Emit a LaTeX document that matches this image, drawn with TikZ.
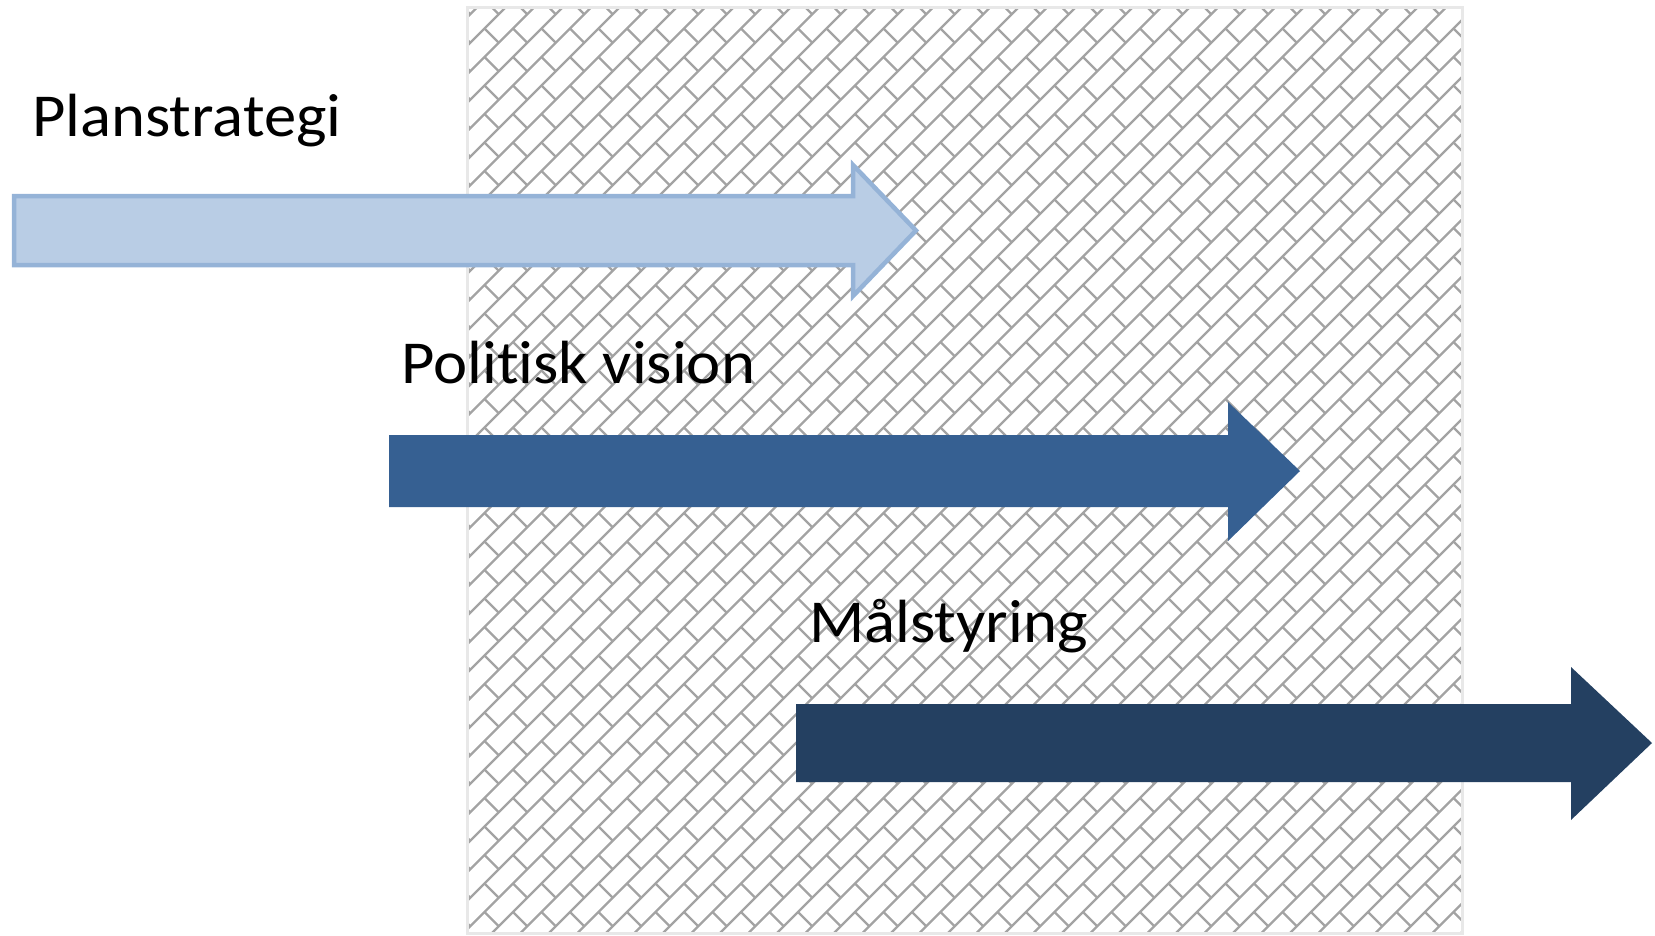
\documentclass[tikz,border=0pt]{standalone}
\usepackage{fontspec}
\setmainfont{Carlito}[Ligatures=NoCommon, FakeStretch=1.06]
\usepackage{tikz}
\usetikzlibrary{calc}

\definecolor{lightarrow}{RGB}{185,205,229}
\definecolor{lightedge}{RGB}{149,179,215}
\definecolor{midarrow}{RGB}{54,96,146}
\definecolor{darkarrow}{RGB}{36,64,97}
\definecolor{hatchgrey}{RGB}{163,163,163}
\definecolor{boxedge}{RGB}{232,232,232}

\tikzset{
  label text/.style={anchor=base west, inner sep=0pt, font=\fontsize{61}{72}\selectfont},
  hatch/.style={draw=hatchgrey, line width=2.3pt},
}

\begin{document}
\begin{tikzpicture}[x=1pt, y=-1pt]
      \useasboundingbox (0,0) rectangle (1655,935);

      % hatched panel
      \coordinate (p1) at (467,7);
      \coordinate (p2) at (1462,933);
      \begin{scope}
        \clip (p1) rectangle (p2);
        \foreach \k in {16,...,85}
                 {
                   \draw [hatch] (\k*28.5-940, 940) -- (\k*28.5, 0);
                 }
        \draw [hatch] \foreach \a in {15,...,52} { \foreach \b in {0,...,33}
                 { (\a*28.5, \b*28.5) -- ++(14.25, 14.25) } };
      \end{scope}
      \draw [boxedge, line width=3pt] (p1) rectangle (p2);

      % arrows
      \draw [fill=lightarrow, draw=lightedge, line width=4.5pt, line join=miter]
            (14,196) -- (853,196) -- (853,165) -- (916,230.5) -- (853,296)
            -- (853,265) -- (14,265) -- cycle;
      \fill [midarrow] (389,435) -- (1228,435) -- (1228,402) -- (1300,471)
            -- (1228,541) -- (1228,507) -- (389,507) -- cycle;
      \fill [darkarrow] (796,704) -- (1571,704) -- (1571,667) -- (1652,743)
            -- (1571,820) -- (1571,782) -- (796,782) -- cycle;

      \node [label text] (plan) at (32,136) {Planstrategi};
      \node [label text] (vision) at (401,383) {Politisk vision};
      \node [label text] (maal) at (809,642) {Målstyring};
\end{tikzpicture}
\end{document}
